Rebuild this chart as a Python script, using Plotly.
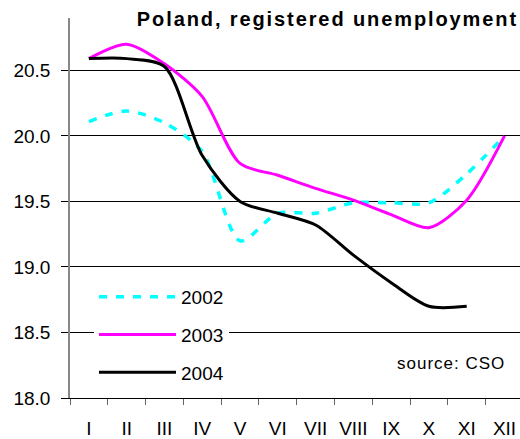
import plotly.graph_objects as go

months = ["I", "II", "III", "IV", "V", "VI", "VII", "VIII", "IX", "X", "XI", "XII"]
y2002 = [20.11, 20.19, 20.10, 19.88, 19.20, 19.41, 19.41, 19.49, 19.49, 19.49, 19.71, 20.00]
y2003 = [20.59, 20.70, 20.55, 20.30, 19.79, 19.70, 19.60, 19.51, 19.40, 19.30, 19.51, 20.00]
y2004 = [20.59, 20.59, 20.53, 19.85, 19.50, 19.41, 19.32, 19.09, 18.88, 18.70, 18.70]

FONT = "Liberation Sans, Arial, sans-serif"
W, H = 520, 439

fig = go.Figure()
fig.add_trace(go.Scatter(x=months, y=y2002, name="2002", mode="lines", legendgroup="a",
                         line=dict(color="#00FFFF", width=3.5, dash="8px,9px", shape="spline", smoothing=0.8)))
fig.add_trace(go.Scatter(x=months, y=y2003, name="2003", mode="lines", legendgroup="b",
                         line=dict(color="#FF00FF", width=3, shape="spline", smoothing=0.8)))
fig.add_trace(go.Scatter(x=months[:len(y2004)], y=y2004, name="2004", mode="lines", legendgroup="c",
                         line=dict(color="#000000", width=3, shape="spline", smoothing=0.8)))

fig.update_layout(
    width=W, height=H,
    margin=dict(l=70, r=0, t=18, b=41),
    paper_bgcolor="white", plot_bgcolor="white",
    font=dict(family=FONT, size=19, color="black"),
    title=dict(text='<b><span style="letter-spacing:1.9px">Poland, registered unemployment</span></b>',
               x=518/W, xanchor="right",
               y=1-19/H, yanchor="middle", font=dict(family=FONT, size=20, color="black")),
    showlegend=True,
    legend=dict(x=24/450, xanchor="left", y=(398-278)/380, yanchor="top",
                bgcolor="white", borderwidth=0, font=dict(size=19),
                tracegroupgap=10, itemwidth=77),
    xaxis=dict(type="category", range=[-0.5, 11.41], showgrid=False,
               showline=True, linecolor="black", linewidth=1,
               ticks="outside", tickson="boundaries", ticklen=6, tickcolor="#666",
               tickfont=dict(size=19), ticklabelstandoff=13),
    yaxis=dict(range=[18, 20.9], dtick=0.5, tick0=18, tickformat=".1f",
               showgrid=True, gridcolor="black", gridwidth=1, zeroline=False,
               showline=True, linecolor="#888", linewidth=1.5,
               ticks="outside", ticklen=7, tickcolor="black",
               tickfont=dict(size=19), ticklabelstandoff=7),
    annotations=[dict(text='<span style="letter-spacing:1px">source: CSO</span>', xref="paper", yref="paper",
                      x=(507-70)/450, y=(398-363)/380, xanchor="right", yanchor="middle",
                      showarrow=False, font=dict(family=FONT, size=17, color="black"))],
)

fig.write_html("out.html",
               config={"displayModeBar": False},
               post_script="document.body.style.margin='0';document.body.style.overflow='hidden';")
